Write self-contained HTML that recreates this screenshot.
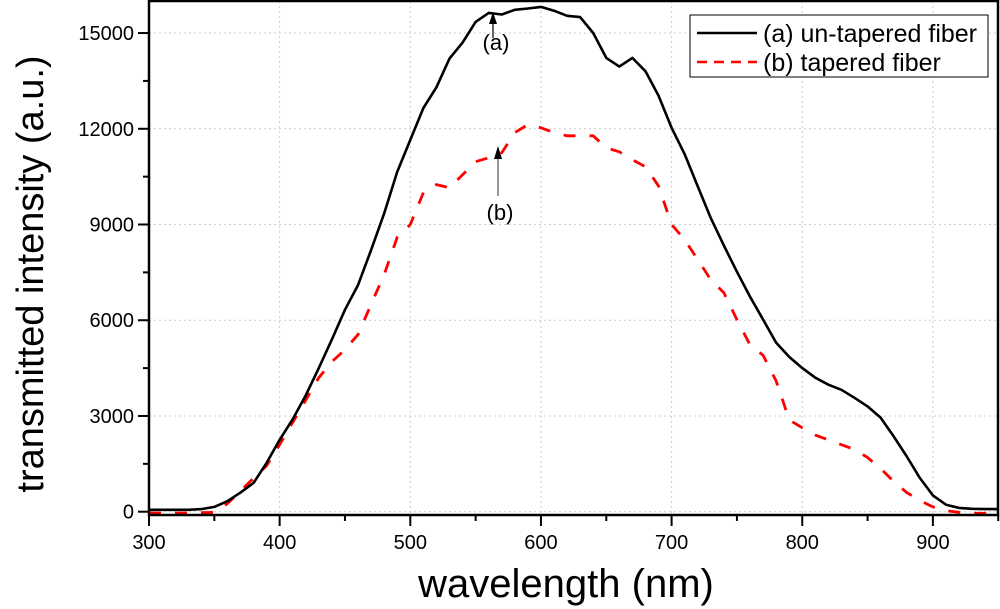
<!DOCTYPE html>
<html><head><meta charset="utf-8"><style>
html,body{margin:0;padding:0;background:#fff;}
svg{display:block;font-family:"Liberation Sans",Arial,sans-serif;}
</style></head><body>
<svg id="chart" width="1000" height="609" viewBox="0 0 1000 609" xmlns="http://www.w3.org/2000/svg">
<g id="grid"></g>
<g id="series"></g>
<rect x="149" y="1" width="849" height="514" fill="none" stroke="#000" stroke-width="2.5"/>
<g id="axes"></g>
<text x="566" y="597" font-size="40" text-anchor="middle">wavelength (nm)</text>
<text transform="translate(43,274) rotate(-90)" font-size="38" text-anchor="middle">transmitted intensity (a.u.)</text>
<g>
<line x1="493" y1="38" x2="493" y2="22" stroke="#000" stroke-width="1.2"/>
<polygon points="493,12 489,24 497,24" fill="#000"/>
<text x="496" y="50" font-size="22" text-anchor="middle">(a)</text>
</g>
<g>
<line x1="498" y1="196" x2="498" y2="158" stroke="#555" stroke-width="1.2"/>
<polygon points="498,146 494,159 502,159" fill="#000"/>
<text x="500" y="220" font-size="22" text-anchor="middle">(b)</text>
</g>
<g>
<rect x="690" y="15" width="298" height="62" fill="#fff" stroke="#000" stroke-width="1"/>
<line x1="697" y1="33" x2="757" y2="33" stroke="#000" stroke-width="2.5"/>
<text x="763" y="42" font-size="25">(a) un-tapered fiber</text>
<line x1="697" y1="62" x2="757" y2="62" stroke="#f00" stroke-width="2.5" stroke-dasharray="10,7"/>
<text x="763" y="71" font-size="25">(b) tapered fiber</text>
</g>
</svg>
<script>
const wavelengths=[300,310,320,330,340,350,360,370,380,390,400,410,420,430,440,450,460,470,480,490,500,510,520,530,540,550,560,570,580,590,600,610,620,630,640,650,660,670,680,690,700,710,720,730,740,750,760,770,780,790,800,810,820,830,840,850,860,870,880,890,900,910,920,930,940,950];
const untapered=[60,60,60,60,80,150,330,600,900,1530,2250,2900,3650,4500,5400,6330,7100,8200,9350,10650,11650,12650,13300,14200,14700,15350,15630,15580,15730,15770,15820,15700,15540,15500,15000,14220,13950,14220,13800,13040,12030,11200,10200,9200,8340,7520,6740,6020,5300,4850,4500,4200,3980,3820,3570,3300,2950,2360,1730,1060,510,220,120,90,80,80];
const tapered=[-40,-40,-40,-40,-30,-20,250,650,1050,1440,2100,2800,3500,4200,4700,5080,5550,6500,7430,8600,9000,10000,10250,10150,10560,10970,11090,11250,11880,12130,12030,11880,11780,11780,11780,11400,11280,11030,10810,10210,9000,8520,7900,7270,6860,6020,5230,4900,4100,2880,2630,2400,2250,2100,1950,1700,1350,950,600,350,150,30,-20,-50,-50,-50];
const xTicks=[300,400,500,600,700,800,900];
const xMinor=[350,450,550,650,750,850,950];
const yTicks=[0,3000,6000,9000,12000,15000];
const yMinor=[1500,4500,7500,10500,13500];
const NS="http://www.w3.org/2000/svg";
const X0=149,XS=1.3065,Y0=511.7,YS=0.03191;
function sx(v){return X0+(v-300)*XS;}
function sy(v){return Y0-v*YS;}
function mk(tag,attrs,parent){const e=document.createElementNS(NS,tag);for(const k in attrs)e.setAttribute(k,attrs[k]);parent.appendChild(e);return e;}
const grid=document.getElementById('grid'),axes=document.getElementById('axes'),series=document.getElementById('series');
xTicks.forEach(t=>{
 if(t>300){const g=mk('line',{x1:sx(t),y1:1,x2:sx(t),y2:515,stroke:'#ccc','stroke-width':1,'stroke-dasharray':'2,3'},grid);
 
 }
 const tk=mk('line',{x1:sx(t),y1:515,x2:sx(t),y2:526,stroke:'#000','stroke-width':2},axes);
 
 
 const lb=mk('text',{x:sx(t),y:549,'font-size':20,'text-anchor':'middle'},axes);lb.textContent=t;
 
 
});
xMinor.forEach(t=>{const tk=mk('line',{x1:sx(t),y1:515,x2:sx(t),y2:521,stroke:'#000','stroke-width':2},axes);
 
 });
yTicks.forEach(t=>{
 const g=mk('line',{x1:149,y1:sy(t),x2:998,y2:sy(t),stroke:'#ccc','stroke-width':1,'stroke-dasharray':'2,3'},grid);
 
 
 const tk=mk('line',{x1:138,y1:sy(t),x2:149,y2:sy(t),stroke:'#000','stroke-width':2},axes);
 
 
 const lb=mk('text',{x:134,y:sy(t)+7,'font-size':20,'text-anchor':'end'},axes);lb.textContent=t;
 
 
});
yMinor.forEach(t=>{const tk=mk('line',{x1:143,y1:sy(t),x2:149,y2:sy(t),stroke:'#000','stroke-width':2},axes);
 
 });
function pts(arr){return wavelengths.map((w,i)=>sx(w).toFixed(1)+','+sy(arr[i]).toFixed(1)).join(' ');}
const lb=mk('polyline',{points:pts(tapered),fill:'none',stroke:'#f00','stroke-width':2.8,'stroke-dasharray':'12,14'},series);


const la=mk('polyline',{points:pts(untapered),fill:'none',stroke:'#000','stroke-width':2.6,'stroke-linejoin':'round'},series);


</script>
</body></html>
